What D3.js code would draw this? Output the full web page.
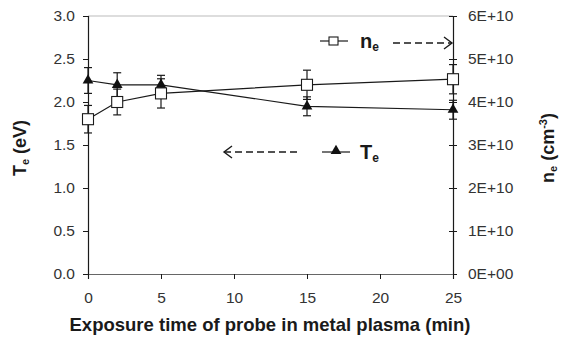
<!DOCTYPE html>
<html>
<head>
<meta charset="utf-8">
<script src="https://cdn.jsdelivr.net/npm/d3@7"></script>
<style>
  html, body { margin: 0; padding: 0; background: #fff; }
  svg { display: block; }
  text { font-family: Arial, "Liberation Sans", sans-serif; }
</style>
</head>
<body>
<svg id="chart" width="567" height="339"></svg>
<script>
// Exposure time (min)
const times = [0, 2, 5, 15, 25];
// Electron temperature Te (eV) and its error
const teValues = [2.25, 2.2, 2.2, 1.95, 1.91];
const teErrors = [0.15, 0.14, 0.11, 0.11, 0.11];
// Electron density ne (cm^-3) and its error
const neValues = [3.6e10, 4.0e10, 4.2e10, 4.4e10, 4.53e10];
const neErrors = [3.2e9, 3.0e9, 3.4e9, 3.4e9, 3.4e9];
// Tick labels
const xTicks = [0, 5, 10, 15, 20, 25];
const leftTicks = [0, 0.5, 1.0, 1.5, 2.0, 2.5, 3.0];
const rightTicks = [0, 1e10, 2e10, 3e10, 4e10, 5e10, 6e10];
const rightTickLabels = ["0E+00", "1E+10", "2E+10", "3E+10", "4E+10", "5E+10", "6E+10"];

const svg = d3.select("#chart");
const L = 88, R = 453, T = 16, B = 274;

const x = d3.scaleLinear().domain([0, 25]).range([L, R]);
const yL = d3.scaleLinear().domain([0, 3]).range([B, T]);
const yR = d3.scaleLinear().domain([0, 6e10]).range([B, T]);

const ink = "#1a1a1a";

// top border
svg.append("line").attr("x1", L).attr("x2", R).attr("y1", T).attr("y2", T)
  .attr("stroke", "#bbb").attr("stroke-width", 1);

// left axis
const gL = svg.append("g").attr("transform", `translate(${L},0)`)
  .call(d3.axisLeft(yL).tickValues(leftTicks).tickFormat(d3.format(".1f")).tickSize(5).tickPadding(8));
// right axis (ticks cross the line)
const gR = svg.append("g").attr("transform", `translate(${R},0)`)
  .call(d3.axisRight(yR).tickValues(rightTicks).tickFormat((d, i) => rightTickLabels[i]).tickSize(4).tickPadding(11));
gR.selectAll(".tick line").attr("x1", -4);
// bottom axis
const gB = svg.append("g").attr("transform", `translate(0,${B})`)
  .call(d3.axisBottom(x).tickValues(xTicks).tickSize(5).tickPadding(13));

[gL, gR, gB].forEach(g => {
  g.select(".domain").attr("stroke", ink).attr("stroke-width", 1.2);
  g.selectAll(".tick line").attr("stroke", ink);
  g.selectAll(".tick text").attr("font-size", 15.5).attr("fill", "#333")
    .style("font-family", "Arial, 'Liberation Sans', sans-serif");
});
gB.select(".domain").attr("stroke", "#666");

// error bars
function errorBars(vals, errs, scale) {
  const g = svg.append("g").attr("stroke", ink).attr("stroke-width", 1.2);
  times.forEach((t, i) => {
    const cx = x(t), y1 = scale(vals[i] - errs[i]), y2 = scale(vals[i] + errs[i]);
    g.append("line").attr("x1", cx).attr("x2", cx).attr("y1", y1).attr("y2", y2);
    g.append("line").attr("x1", cx - 4).attr("x2", cx + 4).attr("y1", y1).attr("y2", y1);
    g.append("line").attr("x1", cx - 4).attr("x2", cx + 4).attr("y1", y2).attr("y2", y2);
  });
}
errorBars(teValues, teErrors, yL);
errorBars(neValues, neErrors, yR);

// lines
const teLine = d3.line().x((d, i) => x(times[i])).y(d => yL(d));
const neLine = d3.line().x((d, i) => x(times[i])).y(d => yR(d));
svg.append("path").attr("d", teLine(teValues)).attr("fill", "none").attr("stroke", ink).attr("stroke-width", 1.2);
svg.append("path").attr("d", neLine(neValues)).attr("fill", "none").attr("stroke", ink).attr("stroke-width", 1.2);

// markers
const tri = d3.symbol().type(d3.symbolTriangle).size(50);
svg.selectAll(".te").data(teValues).join("path")
  .attr("transform", (d, i) => `translate(${x(times[i])},${yL(d)})`)
  .attr("d", tri).attr("fill", "#111");
svg.selectAll(".ne").data(neValues).join("rect")
  .attr("x", (d, i) => x(times[i]) - 5.5).attr("y", d => yR(d) - 5.5)
  .attr("width", 11).attr("height", 11)
  .attr("fill", "#fff").attr("stroke", ink).attr("stroke-width", 1.1);

// dashed arrows pointing at the matching axis
function arrow(x1, x2, y) {
  svg.append("line").attr("x1", x1).attr("x2", x2).attr("y1", y).attr("y2", y)
    .attr("stroke", ink).attr("stroke-width", 1.6).attr("stroke-dasharray", "7,4");
  const dir = x2 > x1 ? -1 : 1;
  svg.append("path")
    .attr("d", `M${x2 + dir * 8},${y - 6} L${x2},${y} L${x2 + dir * 8},${y + 6}`)
    .attr("fill", "none").attr("stroke", ink).attr("stroke-width", 1.4);
}

// ne legend
svg.append("line").attr("x1", 320).attr("x2", 348).attr("y1", 41).attr("y2", 41).attr("stroke", ink).attr("stroke-width", 1.2);
svg.append("rect").attr("x", 329).attr("y", 37).attr("width", 9).attr("height", 8)
  .attr("fill", "#fff").attr("stroke", ink).attr("stroke-width", 1.1);
const neT = svg.append("text").attr("x", 360).attr("y", 48).attr("font-size", 20).attr("font-weight", "bold").attr("fill", ink);
neT.append("tspan").text("n");
neT.append("tspan").attr("font-size", 12).attr("dy", 3).text("e");
arrow(393, 452, 43);

// Te legend
arrow(297, 224, 152);
svg.append("line").attr("x1", 322).attr("x2", 350).attr("y1", 152).attr("y2", 152).attr("stroke", ink).attr("stroke-width", 1.2);
svg.append("path").attr("transform", "translate(336,151)").attr("d", tri).attr("fill", "#111");
const teT = svg.append("text").attr("x", 360).attr("y", 159).attr("font-size", 20).attr("font-weight", "bold").attr("fill", ink);
teT.append("tspan").text("T");
teT.append("tspan").attr("font-size", 12).attr("dy", 3).text("e");

// axis titles
const yl = svg.append("text").attr("transform", "translate(26,148) rotate(-90)")
  .attr("text-anchor", "middle").attr("font-size", 18).attr("font-weight", "bold").attr("fill", ink);
yl.append("tspan").text("T");
yl.append("tspan").attr("font-size", 11).attr("dy", 3).text("e");
yl.append("tspan").attr("dy", -3).text(" (eV)");

const yr = svg.append("text").attr("transform", "translate(554,148) rotate(-90)")
  .attr("text-anchor", "middle").attr("font-size", 18).attr("font-weight", "bold").attr("fill", ink);
yr.append("tspan").text("n");
yr.append("tspan").attr("font-size", 11).attr("dy", 3).text("e");
yr.append("tspan").attr("dy", -3).text(" (cm");
yr.append("tspan").attr("font-size", 11).attr("dy", -7).text("-3");
yr.append("tspan").attr("dy", 7).text(")");

svg.append("text").attr("x", 270).attr("y", 331).attr("text-anchor", "middle")
  .attr("font-size", 18.5).attr("font-weight", "bold").attr("fill", ink)
  .text("Exposure time of probe in metal plasma (min)");
</script>
</body>
</html>
